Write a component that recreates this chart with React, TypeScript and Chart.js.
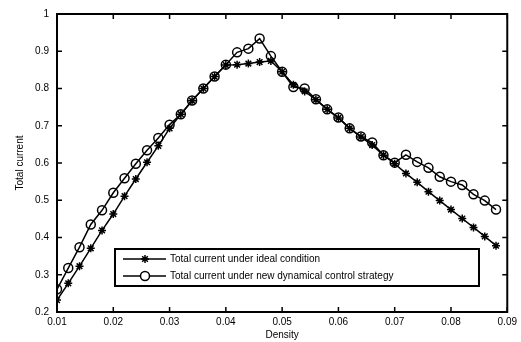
import React, { useEffect, useRef } from "react";
import { Chart, registerables } from "chart.js";

Chart.register(...registerables);

const density = [
  0.010, 0.012, 0.014, 0.016, 0.018, 0.020, 0.022, 0.024, 0.026, 0.028,
  0.030, 0.032, 0.034, 0.036, 0.038, 0.040, 0.042, 0.044, 0.046, 0.048,
  0.050, 0.052, 0.054, 0.056, 0.058, 0.060, 0.062, 0.064, 0.066, 0.068,
  0.070, 0.072, 0.074, 0.076, 0.078, 0.080, 0.082, 0.084, 0.086, 0.088,
];

const idealCurrent = [
  0.232, 0.277, 0.323, 0.371, 0.419, 0.463, 0.511, 0.557, 0.602, 0.646,
  0.693, 0.731, 0.767, 0.800, 0.832, 0.863, 0.864, 0.867, 0.871, 0.874,
  0.845, 0.810, 0.792, 0.770, 0.744, 0.721, 0.693, 0.670, 0.648, 0.621,
  0.598, 0.572, 0.548, 0.523, 0.499, 0.475, 0.451, 0.427, 0.403, 0.378,
];

const controlCurrent = [
  0.261, 0.318, 0.374, 0.435, 0.473, 0.520, 0.559, 0.598, 0.634, 0.667,
  0.703, 0.731, 0.768, 0.800, 0.832, 0.864, 0.897, 0.907, 0.934, 0.887,
  0.845, 0.804, 0.800, 0.771, 0.744, 0.722, 0.693, 0.671, 0.655, 0.621,
  0.601, 0.622, 0.603, 0.587, 0.563, 0.550, 0.541, 0.516, 0.499, 0.475,
];

const seriesLabels = [
  "Total current under ideal condition",
  "Total current under new dynamical control strategy",
];

const FONT = "'Liberation Sans', Arial, sans-serif";

function drawStar(ctx: CanvasRenderingContext2D, x: number, y: number, r: number) {
  ctx.beginPath();
  for (let i = 0; i < 4; i++) {
    const a = (i * Math.PI) / 4;
    ctx.moveTo(x - Math.cos(a) * r, y - Math.sin(a) * r);
    ctx.lineTo(x + Math.cos(a) * r, y + Math.sin(a) * r);
  }
  ctx.stroke();
}

const framePlugin = {
  id: "frame",
  afterDatasetsDraw(chart: any) {
    const { ctx, chartArea } = chart;
    const xs = chart.scales.x;
    const ys = chart.scales.y;
    const { left, right, top, bottom } = chartArea;
    const tl = 5;
    ctx.save();
    ctx.strokeStyle = "#000";
    ctx.lineWidth = 1.5;
    ctx.beginPath();
    xs.ticks.forEach((t: any) => {
      const px = xs.getPixelForValue(t.value);
      ctx.moveTo(px, bottom);
      ctx.lineTo(px, bottom - tl);
      ctx.moveTo(px, top);
      ctx.lineTo(px, top + tl);
    });
    ys.ticks.forEach((t: any) => {
      const py = ys.getPixelForValue(t.value);
      ctx.moveTo(left, py);
      ctx.lineTo(left + tl, py);
      ctx.moveTo(right, py);
      ctx.lineTo(right - tl, py);
    });
    ctx.stroke();
    ctx.lineWidth = 2;
    ctx.strokeRect(left, top, right - left, bottom - top);
    ctx.restore();
  },
  afterDraw(chart: any) {
    const { ctx } = chart;
    const bx = 115, by = 249, bw = 364, bh = 37;
    ctx.save();
    ctx.fillStyle = "#fff";
    ctx.fillRect(bx, by, bw, bh);
    ctx.strokeStyle = "#000";
    ctx.lineWidth = 2;
    ctx.strokeRect(bx, by, bw, bh);
    const rows = [259, 276];
    chart.data.datasets.forEach((ds: any, i: number) => {
      const y = rows[i];
      ctx.lineWidth = 1.5;
      ctx.beginPath();
      ctx.moveTo(123, y);
      ctx.lineTo(166, y);
      ctx.stroke();
      if (ds.pointStyle === "star") {
        drawStar(ctx, 145, y, 4);
      } else {
        ctx.beginPath();
        ctx.arc(145, y, 4.5, 0, Math.PI * 2);
        ctx.fillStyle = "#fff";
        ctx.fill();
        ctx.stroke();
      }
      ctx.fillStyle = "#000";
      ctx.font = `10px ${FONT}`;
      ctx.textBaseline = "middle";
      ctx.textAlign = "left";
      ctx.fillText(ds.label, 170, y);
    });
    ctx.restore();
  },
};

export default function App() {
  const ref = useRef<HTMLCanvasElement | null>(null);
  useEffect(() => {
    if (!ref.current) return;
    const chart = new Chart(ref.current, {
      type: "line",
      data: {
        datasets: [
          {
            label: seriesLabels[0],
            data: density.map((x, i) => ({ x, y: idealCurrent[i] })),
            borderColor: "#000",
            backgroundColor: "#000",
            borderWidth: 1.5,
            pointStyle: "star",
            pointRadius: 4,
            pointBorderWidth: 1.5,
            pointBorderColor: "#000",
            tension: 0,
          },
          {
            label: seriesLabels[1],
            data: density.map((x, i) => ({ x, y: controlCurrent[i] })),
            borderColor: "#000",
            backgroundColor: "#fff",
            borderWidth: 1.5,
            pointStyle: "circle",
            pointRadius: 4.5,
            pointBorderWidth: 1.5,
            pointBorderColor: "#000",
            pointBackgroundColor: "rgba(255,255,255,0)",
            tension: 0,
          },
        ],
      },
      options: {
        animation: false,
        responsive: false,
        devicePixelRatio: 1,
        layout: { padding: { left: 0, right: 9, top: 12, bottom: 0 } },
        plugins: { legend: { display: false }, tooltip: { enabled: false } },
        scales: {
          x: {
            type: "linear",
            min: 0.01,
            max: 0.09,
            grid: { display: false, drawTicks: false },
            border: { display: false },
            afterFit: (s: any) => { s.height = 30; },
            ticks: {
              stepSize: 0.01,
              padding: 4,
              color: "#000",
              font: { family: FONT, size: 10 },
              maxRotation: 0,
              callback: (v: any) => Number(v).toFixed(2),
            },
            title: {
              display: true,
              text: "Density",
              color: "#000",
              font: { family: FONT, size: 10 },
              padding: { top: 0, bottom: 1 },
            },
          },
          y: {
            type: "linear",
            min: 0.2,
            max: 1,
            grid: { display: false, drawTicks: false },
            border: { display: false },
            afterFit: (s: any) => { s.width = 57; },
            ticks: {
              stepSize: 0.1,
              padding: 8,
              color: "#000",
              font: { family: FONT, size: 10 },
              callback: (v: any) => String(Number(Number(v).toFixed(1))),
            },
            title: {
              display: true,
              text: "Total current",
              color: "#000",
              font: { family: FONT, size: 10 },
              padding: { top: 14, bottom: 0 },
            },
          },
        },
      },
      plugins: [framePlugin],
    });
    return () => chart.destroy();
  }, []);
  return (
    <div style={{ position: "fixed", left: 0, top: 0, width: 521, height: 342, background: "#fff" }}>
      <canvas ref={ref} width={521} height={342} style={{ width: 521, height: 342 }} />
    </div>
  );
}
